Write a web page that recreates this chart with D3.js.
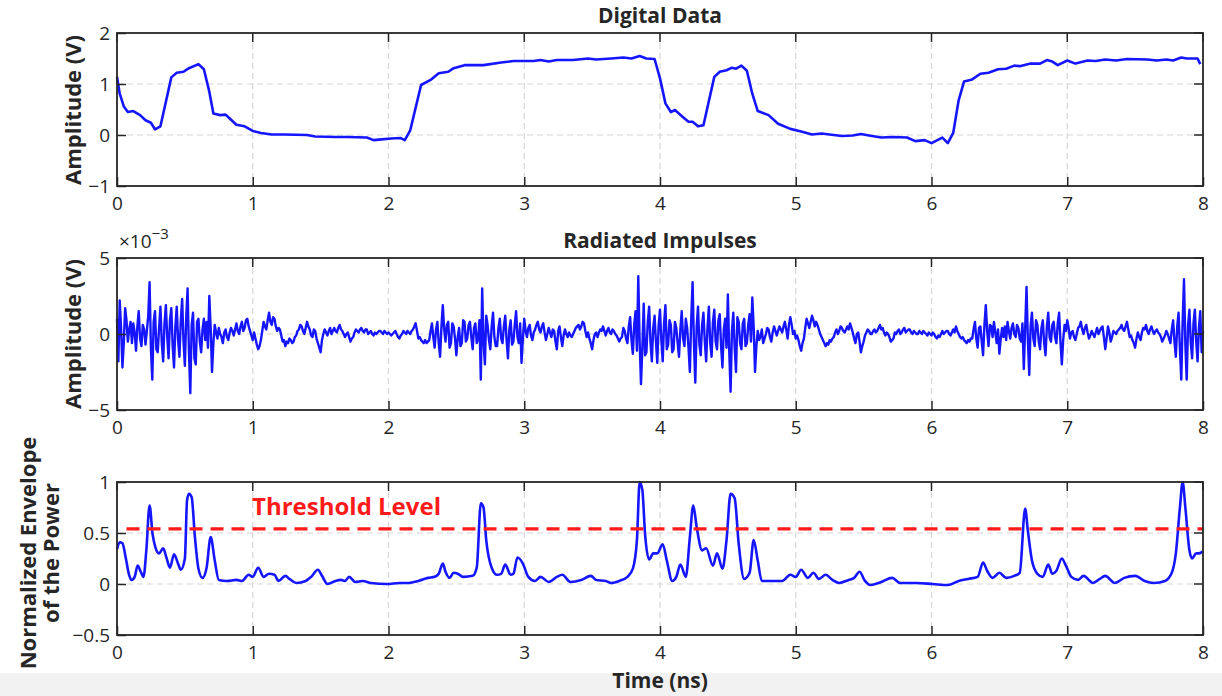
<!DOCTYPE html>
<html><head><meta charset="utf-8">
<script src="https://cdn.jsdelivr.net/npm/d3@7"></script>
<style>
body{margin:0;background:#fff;}
text{font-family:"Open Sans",sans-serif;fill:#262626;}
</style>
</head><body>
<svg id="chart" width="1222" height="696"></svg>
<script>
// ---------------- data ----------------
const timeTicks = [0,1,2,3,4,5,6,7,8];
const digitalTicks = [-1,0,1,2];
const impulseTicks = [-5,0,5];           // ×10^-3 V
const envelopeTicks = [-0.5,0,0.5,1];

const digitalTime = [0,0.02,0.05,0.08,0.12,0.17,0.21,0.25,0.28,0.32,0.40,0.44,0.49,0.53,0.60,0.64,0.68,0.71,0.76,0.80,0.84,0.88,0.94,1.00,1.06,1.14,1.23,1.40,1.46,1.61,1.70,1.84,1.89,1.93,2.02,2.09,2.12,2.16,2.24,2.31,2.37,2.44,2.48,2.56,2.70,2.83,2.92,3.07,3.12,3.18,3.24,3.36,3.47,3.53,3.64,3.73,3.79,3.85,3.90,3.96,4.00,4.04,4.08,4.11,4.17,4.21,4.24,4.28,4.32,4.40,4.44,4.49,4.53,4.56,4.60,4.64,4.68,4.72,4.80,4.87,4.96,5.04,5.12,5.19,5.28,5.34,5.42,5.48,5.54,5.63,5.72,5.82,5.88,5.95,6.00,6.08,6.12,6.16,6.20,6.24,6.30,6.36,6.42,6.49,6.55,6.61,6.65,6.73,6.80,6.85,6.89,6.93,7.00,7.06,7.15,7.21,7.28,7.36,7.44,7.59,7.66,7.73,7.78,7.84,7.88,7.96,7.98];
const digitalAmp = [1.14,0.81,0.56,0.45,0.47,0.39,0.29,0.24,0.11,0.17,1.13,1.22,1.24,1.31,1.39,1.29,0.85,0.42,0.39,0.40,0.30,0.20,0.17,0.08,0.04,0.01,0.01,0.0,-0.03,-0.04,-0.04,-0.05,-0.10,-0.09,-0.07,-0.06,-0.10,0.09,0.98,1.08,1.21,1.24,1.31,1.37,1.37,1.42,1.45,1.45,1.47,1.44,1.47,1.47,1.50,1.48,1.50,1.52,1.50,1.55,1.50,1.49,1.11,0.62,0.45,0.49,0.35,0.26,0.26,0.17,0.19,1.14,1.24,1.27,1.32,1.30,1.36,1.26,0.81,0.47,0.39,0.22,0.12,0.07,0.01,0.03,0.0,-0.02,-0.01,0.02,-0.01,-0.05,-0.04,-0.05,-0.12,-0.10,-0.16,-0.05,-0.16,0.04,0.68,1.05,1.09,1.20,1.22,1.29,1.30,1.36,1.35,1.40,1.40,1.47,1.44,1.37,1.46,1.40,1.46,1.45,1.48,1.46,1.49,1.48,1.46,1.48,1.46,1.52,1.50,1.50,1.39];

const impulseStep = 0.01; // ns between samples
const impulseAmp = [ // ×10^-3 V, one row per 0.1 ns
  1.0,-1.8,2.2,0.4,-2.2,-0.6,1.7,0.9,-0.5,0.3,
  0.8,-0.6,0.7,0.1,-1.1,0.5,1.5,-0.3,-0.8,0.6,
  0.3,-0.7,0.2,1.2,3.4,-1.0,-3.0,0.8,1.5,-1.0,
  -1.2,0.4,1.8,-0.6,-1.8,0.7,1.9,-0.2,-1.6,0.9,
  1.7,-0.8,-2.2,0.5,1.8,-0.4,-1.5,0.9,2.3,-0.5,
  -2.1,1.1,3.0,-1.2,-3.9,0.6,1.4,-1.6,-2.0,0.8,
  1.0,-0.5,-1.2,0.3,1.0,-0.4,0.8,-0.9,2.5,0.4,
  -2.5,-0.6,0.6,0.1,-0.3,0.4,0.0,-0.2,-0.6,0.1,
  0.3,-0.2,-0.4,0.1,0.4,0.2,-0.1,0.3,0.7,0.2,
  0.0,0.5,0.8,0.2,0.4,0.9,1.0,0.5,0.2,-0.1,
  -0.4,0.1,-0.3,-0.7,-1.0,-0.8,-0.4,0.2,0.8,0.5,
  0.3,0.9,1.4,0.8,0.6,1.1,1.0,0.5,0.2,0.4,
  0.3,-0.1,-0.5,-0.4,-0.8,-0.5,-0.6,-0.3,-0.4,-0.6,
  -0.5,-0.2,-0.1,0.2,0.3,0.6,0.5,0.2,0.0,0.4,
  0.8,0.5,0.3,-0.1,-0.2,0.3,0.2,-0.3,-0.6,-0.9,
  -1.2,-0.4,0.0,0.3,0.1,-0.1,0.2,0.4,0.0,0.2,
  0.4,0.2,0.1,0.4,0.6,0.3,0.2,0.0,-0.2,0.0,
  0.1,-0.2,-0.5,-0.3,-0.2,0.1,0.3,0.2,0.1,0.3,
  0.4,0.2,0.1,0.3,0.3,0.0,0.1,0.2,0.0,-0.1,
  0.1,0.0,0.1,0.2,0.2,0.1,0.0,0.2,0.1,0.0,
  0.1,0.0,-0.1,0.0,0.1,0.2,0.0,-0.2,-0.3,-0.1,
  0.0,0.2,0.1,0.0,0.2,0.1,0.0,0.2,0.3,0.5,
  0.7,0.2,-0.3,-0.2,-0.4,-0.5,-0.6,-0.4,-0.6,-0.5,
  -0.4,0.2,0.7,-0.2,-0.9,0.3,0.8,-0.6,-1.5,0.5,
  1.9,0.3,-0.5,0.6,0.8,-0.9,-0.6,0.7,0.5,-0.3,
  -1.4,-0.2,0.4,-0.8,-0.6,0.9,0.8,-0.5,-0.3,0.6,
  0.8,-0.2,-1.0,0.4,0.7,-0.6,-0.3,0.9,-3.0,3.0,
  -0.5,-2.0,1.2,0.6,-0.4,-1.0,0.5,1.4,-0.2,-0.8,
  -0.8,0.4,1.0,-0.3,-0.6,0.5,1.2,-0.4,-1.6,0.3,
  0.9,-0.7,-0.5,0.6,1.5,-0.2,-0.6,0.7,-1.9,-0.3,
  1.0,0.2,-0.2,0.4,0.6,-0.1,-0.4,0.1,0.3,0.6,
  0.8,0.3,0.1,0.5,0.7,0.1,-0.4,0.0,0.4,0.1,
  -0.2,0.3,0.2,-0.5,-1.0,0.2,0.5,-0.2,-0.8,-0.1,
  0.3,0.0,-0.2,0.1,-0.1,-0.2,0.0,0.2,0.4,0.5,
  0.6,0.3,0.5,0.8,0.7,0.2,-0.2,0.1,-0.3,-0.6,
  -1.0,-0.4,0.0,0.1,-0.2,0.1,0.3,0.2,0.5,0.2,
  -0.1,0.2,0.4,0.1,0.0,0.3,0.2,0.0,-0.1,-0.3,
  -0.5,-0.3,-0.2,0.4,0.2,-0.3,-0.6,0.5,1.1,-0.4,
  -1.3,0.6,1.5,-1.1,3.8,-0.5,-3.3,-0.9,2.0,-1.4,
  -1.2,0.8,1.8,-0.6,-1.8,0.4,1.2,-0.5,-1.9,0.6,
  1.6,-0.4,-1.8,0.7,1.9,-1.0,-0.7,0.9,0.6,-1.2,
  -1.0,0.8,0.4,-0.6,-1.5,0.3,1.5,-0.3,-0.8,1.0,
  0.4,-0.9,-2.5,1.0,3.4,-0.6,-3.2,0.5,1.8,-0.7,
  -1.4,0.6,1.4,-0.5,-1.8,0.4,1.8,-0.6,-1.5,0.8,
  1.6,-0.5,-1.0,0.9,1.3,-0.8,-2.2,0.3,1.0,-0.9,
  2.6,-1.1,-3.8,0.2,1.4,-0.9,-2.5,1.1,0.8,-0.6,
  -1.0,0.7,1.0,-0.8,-0.6,0.6,1.3,-0.5,2.4,0.5,
  -2.5,-0.8,0.2,-0.4,-0.2,0.3,-0.6,-0.3,0.0,0.4,
  0.3,-0.2,-0.5,0.1,0.5,0.2,-0.1,0.2,0.5,0.3,
  0.1,0.5,0.8,0.3,-0.3,0.6,1.1,0.6,0.0,0.2,
  -0.3,-0.1,-0.4,-0.8,-1.1,-0.6,-0.3,0.4,1.0,0.7,
  0.4,0.8,1.2,0.9,0.5,0.8,0.6,0.3,0.0,-0.2,
  -0.4,-0.6,-0.8,-0.6,-0.7,-0.4,-0.5,-0.3,-0.2,0.1,
  0.3,0.0,0.2,0.5,0.4,0.2,0.1,0.3,0.5,0.3,
  0.7,0.4,0.1,-0.3,-0.6,0.0,0.1,-0.5,-1.2,-0.8,
  -0.5,-0.1,0.1,0.3,0.2,0.0,0.0,0.2,0.3,0.1,
  0.2,0.4,0.6,0.3,0.4,0.1,-0.1,0.1,0.0,-0.2,
  -0.5,-0.4,-0.3,0.1,0.0,0.2,0.3,0.0,0.1,0.3,
  0.4,0.1,0.2,0.3,0.3,0.1,0.0,0.2,0.1,0.0,
  0.0,0.2,0.1,0.0,0.2,0.1,0.0,-0.1,0.1,0.0,
  -0.1,0.1,0.0,-0.2,-0.3,-0.1,-0.2,0.0,0.2,0.0,
  0.1,0.2,0.2,0.0,-0.1,0.1,0.3,0.1,0.5,0.2,
  0.0,-0.2,-0.3,-0.2,-0.4,-0.5,-0.6,-0.4,-0.5,-0.3,
  -0.3,0.3,0.8,-0.3,-0.9,0.4,0.5,-0.5,-1.4,0.6,
  1.9,0.2,-0.8,0.6,0.5,-0.2,0.8,0.1,-0.6,0.3,
  -1.3,-0.3,0.4,-0.2,0.5,-0.4,0.8,0.2,-0.3,0.4,
  0.7,0.0,-0.2,0.6,0.4,-0.3,-0.5,0.7,-2.3,0.4,
  3.1,-0.4,-2.7,0.5,1.4,-0.3,-0.8,0.9,0.6,-0.5,
  -1.0,0.4,0.9,-0.6,-1.4,0.5,1.4,-0.2,-0.5,0.6,
  0.8,-0.2,-0.6,0.7,1.4,-0.5,-2.0,-0.4,0.6,0.2,
  0.9,0.4,-0.3,0.1,0.2,-0.2,-0.4,0.0,0.4,0.5,
  0.8,0.3,0.0,0.4,0.6,0.1,-0.3,-0.1,0.2,0.0,
  -0.2,0.1,0.4,0.0,0.2,0.4,0.5,-0.2,-1.0,-0.3,
  0.5,0.1,-0.5,-0.2,0.2,0.1,0.0,0.2,0.3,0.4,
  0.6,0.3,0.2,0.5,0.8,0.3,-0.2,-0.1,-0.4,-0.6,
  -0.9,-0.3,0.1,-0.2,-0.4,0.1,0.4,0.3,0.6,0.2,
  0.0,0.3,0.5,0.2,0.0,0.2,0.3,0.1,0.0,-0.2,
  -0.5,-0.3,-0.1,0.2,0.0,-0.3,-0.6,0.3,0.9,-0.5,
  -1.5,0.5,1.4,-1.0,-3.0,0.8,3.6,-0.7,-3.0,0.6,
  1.6,-0.6,-1.6,0.7,1.6,-0.5,-1.8,0.4,1.5,-1.2,
  0.2
];

const envelopeTime = [0,0.02,0.04,0.064,0.087,0.108,0.13,0.152,0.175,0.195,0.216,0.24,0.262,0.283,0.31,0.34,0.364,0.39,0.42,0.45,0.47,0.50,0.516,0.53,0.55,0.574,0.60,0.63,0.66,0.69,0.72,0.75,0.81,0.88,0.92,0.97,1.00,1.04,1.08,1.12,1.16,1.19,1.24,1.27,1.32,1.39,1.43,1.48,1.51,1.55,1.61,1.65,1.68,1.71,1.755,1.81,1.87,1.99,2.08,2.15,2.22,2.29,2.34,2.37,2.40,2.42,2.45,2.48,2.51,2.55,2.62,2.65,2.68,2.70,2.72,2.76,2.80,2.83,2.86,2.90,2.92,2.95,2.99,3.03,3.08,3.12,3.18,3.24,3.28,3.34,3.42,3.49,3.53,3.60,3.64,3.70,3.76,3.80,3.83,3.85,3.87,3.89,3.92,3.95,3.98,4.02,4.05,4.09,4.12,4.15,4.19,4.22,4.245,4.27,4.31,4.34,4.39,4.42,4.46,4.49,4.52,4.55,4.58,4.62,4.66,4.69,4.72,4.75,4.81,4.90,4.96,5.00,5.04,5.09,5.13,5.17,5.22,5.27,5.32,5.39,5.43,5.47,5.51,5.55,5.63,5.71,5.77,5.89,6.01,6.12,6.20,6.27,6.34,6.38,6.41,6.45,6.50,6.55,6.61,6.65,6.69,6.71,6.74,6.78,6.82,6.86,6.89,6.92,6.96,6.99,7.03,7.08,7.12,7.19,7.24,7.28,7.35,7.42,7.50,7.57,7.64,7.72,7.77,7.80,7.83,7.85,7.87,7.90,7.92,7.95,7.97,8.00];
const envelopeAmp = [0.34,0.41,0.40,0.26,0.10,0.04,0.07,0.18,0.12,0.07,0.33,0.77,0.49,0.36,0.30,0.35,0.26,0.16,0.29,0.20,0.14,0.25,0.82,0.885,0.85,0.46,0.15,0.06,0.16,0.46,0.23,0.04,0.03,0.04,0.03,0.09,0.07,0.16,0.07,0.10,0.09,0.03,0.08,0.05,0.01,0.03,0.07,0.14,0.08,0.00,0.03,0.04,0.03,0.07,0.02,0.03,0.01,0.0,0.01,0.01,0.03,0.06,0.07,0.10,0.20,0.12,0.06,0.11,0.10,0.07,0.08,0.16,0.79,0.75,0.43,0.16,0.09,0.10,0.19,0.09,0.10,0.26,0.20,0.07,0.03,0.07,0.02,0.07,0.09,0.02,0.04,0.08,0.04,0.03,0.01,0.03,0.07,0.15,0.43,1.0,0.92,0.49,0.24,0.30,0.30,0.39,0.23,0.03,0.07,0.19,0.07,0.46,0.77,0.56,0.33,0.35,0.18,0.30,0.15,0.43,0.885,0.84,0.39,0.05,0.11,0.43,0.23,0.03,0.03,0.03,0.09,0.07,0.14,0.06,0.11,0.05,0.09,0.04,0.01,0.04,0.06,0.12,0.03,-0.01,0.02,0.06,0.01,0.01,0.0,-0.01,0.03,0.05,0.07,0.21,0.13,0.06,0.11,0.06,0.08,0.11,0.74,0.52,0.23,0.10,0.07,0.19,0.10,0.13,0.25,0.18,0.07,0.04,0.08,0.01,0.05,0.08,0.01,0.06,0.08,0.03,0.01,0.03,0.11,0.30,0.75,1.0,0.75,0.33,0.25,0.30,0.30,0.32];

const thresholdLevel = 0.54;
const thresholdStart = 0.07;
const panelTitles = ["Digital Data","Radiated Impulses",""];

// ---------------- layout ----------------
const svg = d3.select("#chart");
const W = 1222, H = 696;
svg.append("rect").attr("x",0).attr("y",0).attr("width",W).attr("height",H).attr("fill","#fff");
svg.append("rect").attr("x",0).attr("y",673).attr("width",W).attr("height",H-673).attr("fill","#f2f2f2");

const left = 117, right = 1203;
const x = d3.scaleLinear().domain([0,8]).range([left,right]);
const BLUE = "#1515ff";
const AXIS = "#262626";
const TICKFONT = 19;

function panel(top, bottom, yDomain, yTicks, fmt){
  const y = d3.scaleLinear().domain(yDomain).range([bottom, top]);
  const g = svg.append("g");
  const gx = timeTicks.filter(t => t > 0 && t < 8);
  g.selectAll(".gx").data(gx).enter().append("line")
    .attr("x1", d=>x(d)).attr("x2", d=>x(d)).attr("y1", top).attr("y2", bottom)
    .attr("stroke","#d6d6d6").attr("stroke-width",1.2).attr("stroke-dasharray","6,4");
  const gy = yTicks.filter(t => t > yDomain[0] && t < yDomain[1]);
  g.selectAll(".gy").data(gy).enter().append("line")
    .attr("x1", left).attr("x2", right).attr("y1", d=>y(d)).attr("y2", d=>y(d))
    .attr("stroke","#d6d6d6").attr("stroke-width",1.2).attr("stroke-dasharray","6,4");
  return {g, y, top, bottom, yTicks, fmt};
}

function frame(p){
  const {y, top, bottom, yTicks, fmt} = p;
  const tl = 9;
  const xa = svg.append("g").attr("transform",`translate(0,${bottom})`)
    .call(d3.axisBottom(x).tickValues(timeTicks).tickSizeInner(-tl).tickSizeOuter(0).tickPadding(11).tickFormat(d3.format("d")));
  xa.select(".domain").remove();
  xa.selectAll("line").attr("stroke",AXIS).attr("stroke-width",1.5);
  xa.selectAll("text").attr("font-family","Open Sans").attr("font-size",TICKFONT).attr("fill",AXIS);
  svg.append("g").selectAll("line").data(timeTicks).enter().append("line")
    .attr("x1",d=>x(d)).attr("x2",d=>x(d)).attr("y1",top).attr("y2",top+tl)
    .attr("stroke",AXIS).attr("stroke-width",1.5);
  const ya = svg.append("g").attr("transform",`translate(${left},0)`)
    .call(d3.axisLeft(y).tickValues(yTicks).tickSizeInner(-tl).tickSizeOuter(0).tickPadding(7).tickFormat(fmt));
  ya.select(".domain").remove();
  ya.selectAll("line").attr("stroke",AXIS).attr("stroke-width",1.5);
  ya.selectAll("text").attr("font-family","Open Sans").attr("font-size",TICKFONT).attr("fill",AXIS);
  svg.append("g").selectAll("line").data(yTicks).enter().append("line")
    .attr("x1",right).attr("x2",right-tl).attr("y1",d=>y(d)).attr("y2",d=>y(d))
    .attr("stroke",AXIS).attr("stroke-width",1.5);
  svg.append("rect").attr("x",left).attr("y",top).attr("width",right-left).attr("height",bottom-top)
    .attr("fill","none").attr("stroke",AXIS).attr("stroke-width",1.8);
}

const fmtPlain = d => String(d).replace("-","\u2212");

// ---------- panel 1 ----------
const p1 = panel(33, 186, [-1,2], digitalTicks, fmtPlain);
const digitalData = digitalTime.map((t,i)=>[t,digitalAmp[i]]);
p1.g.append("path").datum(digitalData)
  .attr("d", d3.line().x(d=>x(d[0])).y(d=>p1.y(d[1])))
  .attr("fill","none").attr("stroke",BLUE).attr("stroke-width",2.6).attr("stroke-linejoin","round");
frame(p1);

// ---------- panel 2 ----------
const p2 = panel(258, 410, [-5,5], impulseTicks, fmtPlain);
const impulseData = impulseAmp.map((v,i)=>[i*impulseStep, v]);
p2.g.append("path").datum(impulseData)
  .attr("d", d3.line().x(d=>x(d[0])).y(d=>p2.y(d[1])))
  .attr("fill","none").attr("stroke",BLUE).attr("stroke-width",2.4).attr("stroke-linejoin","round");
frame(p2);

// ---------- panel 3 ----------
const p3 = panel(482, 635, [-0.5,1], envelopeTicks, fmtPlain);
const envData = envelopeTime.map((t,i)=>[t,envelopeAmp[i]]);
p3.g.append("path").datum(envData)
  .attr("d", d3.line().curve(d3.curveMonotoneX).x(d=>x(d[0])).y(d=>p3.y(d[1])))
  .attr("fill","none").attr("stroke",BLUE).attr("stroke-width",2.6).attr("stroke-linejoin","round");
p3.g.append("line")
  .attr("x1",x(thresholdStart)).attr("x2",x(8)).attr("y1",p3.y(thresholdLevel)).attr("y2",p3.y(thresholdLevel))
  .attr("stroke","#ff1a1a").attr("stroke-width",3.2).attr("stroke-dasharray","13,8");
frame(p3);
svg.append("text").attr("x",252).attr("y",515).text("Threshold Level")
  .attr("font-size",24).attr("font-weight","bold").style("fill","#ff1a1a");

// ---------- titles / labels ----------
svg.append("text").attr("x",660).attr("y",23).attr("text-anchor","middle")
  .attr("font-size",21).attr("font-weight","bold").text(panelTitles[0]);
svg.append("text").attr("x",660).attr("y",248).attr("text-anchor","middle")
  .attr("font-size",21).attr("font-weight","bold").text(panelTitles[1]);
svg.append("text").attr("x",660).attr("y",688).attr("text-anchor","middle")
  .attr("font-size",21).attr("font-weight","bold").text("Time (ns)");

function yLabel(lines, xs, cy){
  lines.forEach((s,i)=>{
    svg.append("text").attr("transform",`translate(${xs[i]},${cy}) rotate(-90)`)
      .attr("text-anchor","middle").attr("font-size",22).attr("font-weight","bold").text(s);
  });
}
yLabel(["Amplitude (V)"],[81],110);
yLabel(["Amplitude (V)"],[81],334);
yLabel(["Normalized Envelope","of the Power"],[36,59],553);

const ex = svg.append("text").attr("x",119).attr("y",248).attr("font-size",19);
ex.append("tspan").text("×10");
ex.append("tspan").attr("dy",-9).attr("font-size",15).text("\u22123");
</script>
</body></html>
